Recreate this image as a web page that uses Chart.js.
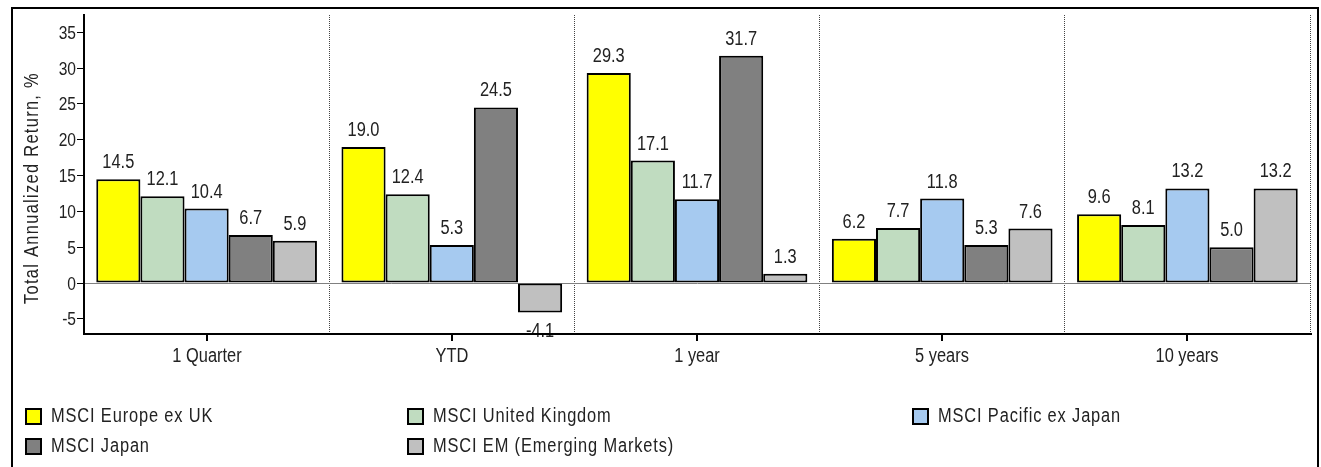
<!DOCTYPE html>
<html lang="en">
<head>
    <meta charset="UTF-8">
    <title>Total Annualized Return</title>
    <script src="https://cdn.jsdelivr.net/npm/chart.js"></script>
    <style>
        body {
            margin: 0;
            background: #fff;
        }
        .chart-container {
            position: relative;
            width: 1321px;
            height: 467px;
        }
    </style>
</head>
<body>
    <div class="chart-container">
        <canvas id="returnsChart"></canvas>
    </div>

    <script>
        // Data
        var categories = ['1 Quarter', 'YTD', '1 year', '5 years', '10 years'];
        var seriesNames = [
            'MSCI Europe ex UK',
            'MSCI United Kingdom',
            'MSCI Pacific ex Japan',
            'MSCI Japan',
            'MSCI EM (Emerging Markets)'
        ];
        var europeExUk = [14.5, 19.0, 29.3, 6.2, 9.6];
        var unitedKingdom = [12.1, 12.4, 17.1, 7.7, 8.1];
        var pacificExJapan = [10.4, 5.3, 11.7, 11.8, 13.2];
        var japan = [6.7, 24.5, 31.7, 5.3, 5.0];
        var emergingMarkets = [5.9, -4.1, 1.3, 7.6, 13.2];
        var yTicks = [-5, 0, 5, 10, 15, 20, 25, 30, 35];

        var seriesValues = [europeExUk, unitedKingdom, pacificExJapan, japan, emergingMarkets];
        var seriesColors = ['#FFFF00', '#C0DCC0', '#A6CAF0', '#808080', '#C0C0C0'];

        var FONT = "'Liberation Sans', Arial, sans-serif";
        var TEXT = '#222';

        // Arial Narrow look: Liberation Sans squeezed horizontally
        function narrowText(ctx, txt, x, y, size, align, spacing) {
            ctx.save();
            ctx.translate(x, y);
            ctx.scale(0.82, 1);
            ctx.font = size + 'px ' + FONT;
            ctx.letterSpacing = (spacing || 0) + 'px';
            ctx.textAlign = align || 'left';
            ctx.textBaseline = 'alphabetic';
            ctx.fillStyle = TEXT;
            ctx.fillText(txt, 0, 0);
            ctx.restore();
        }

        var decorations = {
            id: 'decorations',
            beforeDraw: function(chart) {
                var ctx = chart.ctx;
                ctx.save();
                ctx.fillStyle = '#fff';
                ctx.fillRect(0, 0, chart.width, chart.height);
                ctx.strokeStyle = '#000';
                ctx.lineWidth = 2;
                ctx.strokeRect(12, 8, 1306, 500);
                ctx.restore();
            },
            afterDatasetsDraw: function(chart) {
                var ctx = chart.ctx;
                var area = chart.chartArea;
                var xScale = chart.scales.x;
                var yScale = chart.scales.y;
                ctx.save();

                // value labels
                chart.data.datasets.forEach(function(ds, di) {
                    var meta = chart.getDatasetMeta(di);
                    meta.data.forEach(function(bar, i) {
                        var v = ds.data[i];
                        if (v >= 0) {
                            narrowText(ctx, v.toFixed(1), bar.x, bar.y - 11, 20, 'center');
                        } else {
                            narrowText(ctx, v.toFixed(1), bar.x, bar.y + 25, 20, 'center');
                        }
                    });
                });

                // x axis line on top of labels
                ctx.strokeStyle = '#000';
                ctx.lineWidth = 2;
                ctx.beginPath();
                ctx.moveTo(area.left, area.bottom);
                ctx.lineTo(area.right + 2, area.bottom);
                ctx.stroke();

                // tick marks and labels at category centers
                categories.forEach(function(c, i) {
                    var x = Math.round(xScale.getPixelForTick(i));
                    ctx.beginPath();
                    ctx.moveTo(x, area.bottom);
                    ctx.lineTo(x, area.bottom + 7);
                    ctx.stroke();
                    narrowText(ctx, c, x, area.bottom + 28, 20, 'center');
                });

                // y tick labels
                yScale.ticks.forEach(function(t) {
                    var y = yScale.getPixelForValue(t.value);
                    narrowText(ctx, String(t.value), area.left - 8, y + 6.5, 19, 'right');
                });

                // y axis title
                ctx.save();
                ctx.translate(38, 188);
                ctx.rotate(-Math.PI / 2);
                narrowText(ctx, 'Total Annualized Return, %', 0, 0, 20, 'center', 1.6);
                ctx.restore();

                // legend
                var cols = [26, 408, 913];
                var rows = [409, 439];
                seriesNames.forEach(function(name, i) {
                    var bx = cols[i % 3];
                    var by = rows[Math.floor(i / 3)];
                    ctx.fillStyle = seriesColors[i];
                    ctx.fillRect(bx, by, 15, 15);
                    ctx.strokeStyle = '#000';
                    ctx.lineWidth = 2;
                    ctx.strokeRect(bx, by, 15, 15);
                    narrowText(ctx, name, bx + 25, by + 13, 20, 'left', 1.05);
                });
                ctx.restore();
            }
        };

        var ctx = document.getElementById('returnsChart').getContext('2d');
        var chart = new Chart(ctx, {
            type: 'bar',
            data: {
                labels: categories,
                datasets: seriesNames.map(function(name, i) {
                    return {
                        label: name,
                        data: seriesValues[i],
                        backgroundColor: seriesColors[i],
                        borderColor: '#000',
                        borderWidth: 2,
                        borderSkipped: false,
                        categoryPercentage: 0.9,
                        barPercentage: 1.0
                    };
                })
            },
            options: {
                responsive: true,
                maintainAspectRatio: false,
                animation: false,
                layout: {
                    padding: { top: 15, right: 11, bottom: 0, left: 0 }
                },
                plugins: {
                    legend: { display: false },
                    tooltip: { enabled: false }
                },
                scales: {
                    x: {
                        offset: true,
                        grid: {
                            offset: true,
                            drawTicks: false,
                            color: '#444',
                            lineWidth: 1
                        },
                        border: {
                            display: true,
                            color: '#000',
                            width: 2,
                            dash: [1, 1]
                        },
                        ticks: {
                            display: false
                        },
                        afterFit: function(scale) {
                            scale.height = 133;
                        }
                    },
                    y: {
                        min: -7.1,
                        max: 37.4,
                        afterBuildTicks: function(scale) {
                            scale.ticks = yTicks.map(function(v) { return { value: v }; });
                        },
                        grid: {
                            color: function(c) {
                                return c.tick && c.tick.value === 0 ? '#808080' : 'rgba(0,0,0,0)';
                            },
                            tickColor: '#000',
                            tickLength: 7,
                            lineWidth: 1
                        },
                        border: {
                            display: true,
                            color: '#000',
                            width: 2
                        },
                        ticks: {
                            display: false
                        },
                        afterFit: function(scale) {
                            scale.width = 84;
                        }
                    }
                }
            },
            plugins: [decorations]
        });
    </script>
</body>
</html>
